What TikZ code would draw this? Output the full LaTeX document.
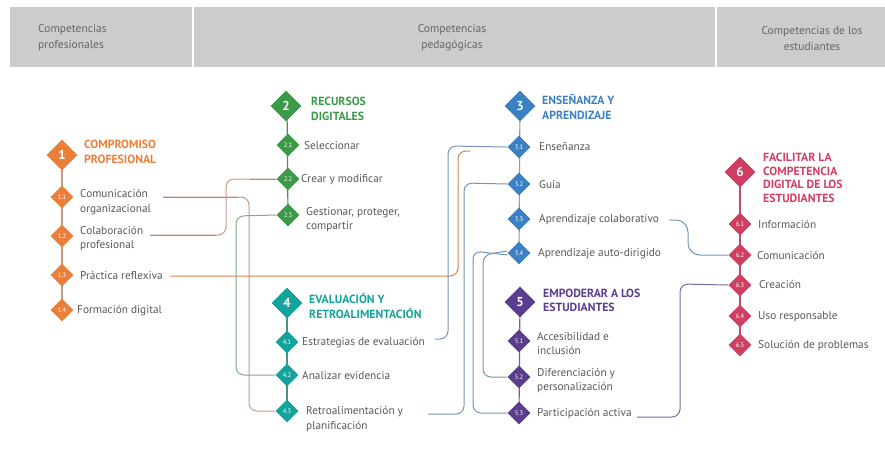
\documentclass[tikz,border=0pt]{standalone}
\usepackage{fontspec}
\setmainfont{PT Sans}
\usetikzlibrary{shapes.geometric}
\definecolor{cOr}{HTML}{EA7F3B}
\definecolor{cGr}{HTML}{3A9A48}
\definecolor{cTe}{HTML}{14A39A}
\definecolor{cBl}{HTML}{3C80C4}
\definecolor{cPu}{HTML}{5A3D8F}
\definecolor{cRe}{HTML}{D03E62}
\definecolor{cTxt}{HTML}{585858}
\definecolor{cHd}{HTML}{CCCCCC}
\definecolor{cHt}{HTML}{666666}
\definecolor{lnTan}{HTML}{C59A82}
\definecolor{lnOr}{HTML}{D97E45}
\definecolor{lnBl}{HTML}{7493B6}
\definecolor{lnGr}{HTML}{80A78C}
\definecolor{lnPu}{HTML}{7A6A9E}
\begin{document}
\begin{tikzpicture}[x=1pt,y=-1pt,
  bigd/.style={diamond,aspect=1,minimum width=31pt,minimum height=31pt,inner sep=0pt,fill=#1,text=white,font=\bfseries\fontsize{13}{13}\selectfont},
  smd/.style={diamond,aspect=1,minimum width=23pt,minimum height=23pt,inner sep=0pt,fill=#1,text=white,font=\fontsize{6.5}{7}\selectfont},
  ttl/.style={anchor=west,inner sep=0pt,align=left,text=#1,font=\bfseries\fontsize{11.8}{14.5}\selectfont},
  lbl/.style={anchor=west,inner sep=0pt,align=left,text=cTxt,font=\fontsize{11.3}{14.5}\selectfont},
  hd/.style={inner sep=0pt,align=center,text=cHt,font=\fontsize{11.5}{16}\selectfont},
  spine/.style={line width=1.2pt,draw=#1},
  cn/.style={line width=1pt,draw=#1,rounded corners=8pt}
]
\useasboundingbox (0,0) rectangle (885,459);
% header
\fill[cHd] (10,7) rectangle (192,67);
\fill[cHd] (193.5,7) rectangle (715,67);
\fill[cHd] (716.5,7) rectangle (885,67);
\node[hd,align=left,anchor=west] (h1) at (38,38) {Competencias\\profesionales};
\node[hd] (h2) at (452,38) {Competencias\\pedagógicas};
\node[hd] (h3) at (812,38) {Competencias de los\\estudiantes};

% spines
\draw[spine=lnTan] (62,155) -- (62,310);
\draw[spine=cGr!80!gray] (287,106) -- (288,215);
\draw[spine=cTe!50!gray] (287,303) -- (287,411);
\draw[spine=gray!80] (520,106) -- (519,253);
\draw[spine=cPu!45!gray] (520,302) -- (519,413);
\draw[spine=cRe!75!gray] (740,172) -- (740,345);

% group 1
\node[bigd=cOr] (g1) at (62,155) {1};
\node[ttl=cOr] (T1) at (84,152) {COMPROMISO\\PROFESIONAL};
\node[smd=cOr] (d11) at (62,197) {1.1};
\node[smd=cOr] (d12) at (62,236) {1.2};
\node[smd=cOr] (d13) at (62,275) {1.3};
\node[smd=cOr] (d14) at (62,310) {1.4};
\node[lbl] (t11) at (80,202) {Comunicación\\organizacional};
\node[lbl] (t12) at (80,238.5) {Colaboración\\profesional};
\node[lbl] (t13) at (80,275.5) {Práctica reflexiva};
\node[lbl] (t14) at (77,310.5) {Formación digital};

% group 2
\node[bigd=cGr] (g2) at (286,106) {2};
\node[ttl=cGr] (T2) at (311,109) {RECURSOS\\DIGITALES};
\node[smd=cGr] (d21) at (288,145) {2.1};
\node[smd=cGr] (d22) at (288,179) {2.2};
\node[smd=cGr] (d23) at (288,215) {2.3};
\node[lbl] (t21) at (304,145.5) {Seleccionar};
\node[lbl] (t22) at (301,179.5) {Crear y modificar};
\node[lbl] (t23) at (306,219.5) {Gestionar, proteger,\\compartir};

% group 4
\node[bigd=cTe] (g4) at (287,303) {4};
\node[ttl=cTe] (T4) at (309,306) {EVALUACIÓN Y\\RETROALIMENTACIÓN};
\node[smd=cTe] (d41) at (287,342) {4.1};
\node[smd=cTe] (d42) at (287,375) {4.2};
\node[smd=cTe] (d43) at (287,411) {4.3};
\node[lbl] (t41) at (302,342.5) {Estrategias de evaluación};
\node[lbl] (t42) at (302,375.5) {Analizar evidencia};
\node[lbl] (t43) at (306,419) {Retroalimentación y\\planificación};

% group 3
\node[bigd=cBl] (g3) at (520,106) {3};
\node[ttl=cBl] (T3) at (542,107) {ENSEÑANZA Y\\APRENDIZAJE};
\node[smd=cBl] (d31) at (519,147) {3.1};
\node[smd=cBl] (d32) at (519,184) {3.2};
\node[smd=cBl] (d33) at (519,219) {3.3};
\node[smd=cBl] (d34) at (519,253) {3.4};
\node[lbl] (t31) at (539,146.5) {Enseñanza};
\node[lbl] (t32) at (539,184.5) {Guía};
\node[lbl] (t33) at (539,219.5) {Aprendizaje colaborativo};
\node[lbl] (t34) at (538,253.5) {Aprendizaje auto-dirigido};

% group 5
\node[bigd=cPu] (g5) at (520,302) {5};
\node[ttl=cPu] (T5) at (543,300.5) {EMPODERAR A LOS\\ESTUDIANTES};
\node[smd=cPu] (d51) at (519,341) {5.1};
\node[smd=cPu] (d52) at (519,377) {5.2};
\node[smd=cPu] (d53) at (519,413) {5.3};
\node[lbl] (t51) at (537,343.5) {Accesibilidad e\\inclusión};
\node[lbl] (t52) at (537,380.5) {Diferenciación y\\personalización};
\node[lbl] (t53) at (537,413.5) {Participación activa};

% group 6
\node[bigd=cRe] (g6) at (740,172) {6};
\node[ttl=cRe,font=\bfseries\fontsize{11.8}{13.7}\selectfont] (T6) at (763,178) {FACILITAR LA\\COMPETENCIA\\DIGITAL DE LOS\\ESTUDIANTES};
\node[smd=cRe] (d61) at (740,224) {6.1};
\node[smd=cRe] (d62) at (740,255) {6.2};
\node[smd=cRe] (d63) at (740,285) {6.3};
\node[smd=cRe] (d64) at (740,316) {6.4};
\node[smd=cRe] (d65) at (740,345) {6.5};
\node[lbl] (t61) at (758,224.5) {Información};
\node[lbl] (t62) at (757,255.5) {Comunicación};
\node[lbl] (t63) at (759,284.5) {Creación};
\node[lbl] (t64) at (758,316.5) {Uso responsable};
\node[lbl] (t65) at (758,345.5) {Solución de problemas};

% free ends
\coordinate (s11) at (163,197);
\coordinate (s12) at (150,235);
\coordinate (s13) at (170,276);
\coordinate (e13) at (470,151);
\coordinate (s41) at (435,339);
\coordinate (s43) at (428,414);
\coordinate (s33) at (669,220);
\coordinate (s53) at (637,417);

% connectors
\draw[cn=lnTan] (s11) -- (249,197) -- (249,411) -- (d43.west);
\draw[line width=1pt,lnOr] (s11) -- (238,197);
\draw[cn=lnTan] (s12) -- (226,235) -- (226,179) -- (d22.west);
\draw[line width=1pt,lnOr] (s12) -- (216,235);
\draw[line width=1pt,lnOr] (d22.west) -- (250,179);
\draw[cn=lnOr!85!lnTan] (s13) -- (458,276) -- (458,151) -- (e13);
\draw[cn=lnGr] (d23.west) -- (236,216) -- (236,375) -- (d42.west);
\draw[cn=lnBl] (s41) -- (448,339) -- (448,146) -- (d31.west);
\draw[cn=lnBl] (s43) -- (464,414) -- (464,183) -- (d32.west);
\draw[cn=lnBl] ([yshift=-2pt]d34.west) -- (473,251) -- (473,413) -- (d53.west);
\draw[cn=lnBl] ([yshift=2pt]d34.west) -- (483,255) -- (483,377) -- (d52.west);
\draw[cn=lnBl,rounded corners=12pt] (s33) -- (688,220) -- (688,255) -- (d62.west);
\draw[cn=lnPu] (s53) -- (680,417) -- (680,284) -- (d63.west);
\end{tikzpicture}
\end{document}
